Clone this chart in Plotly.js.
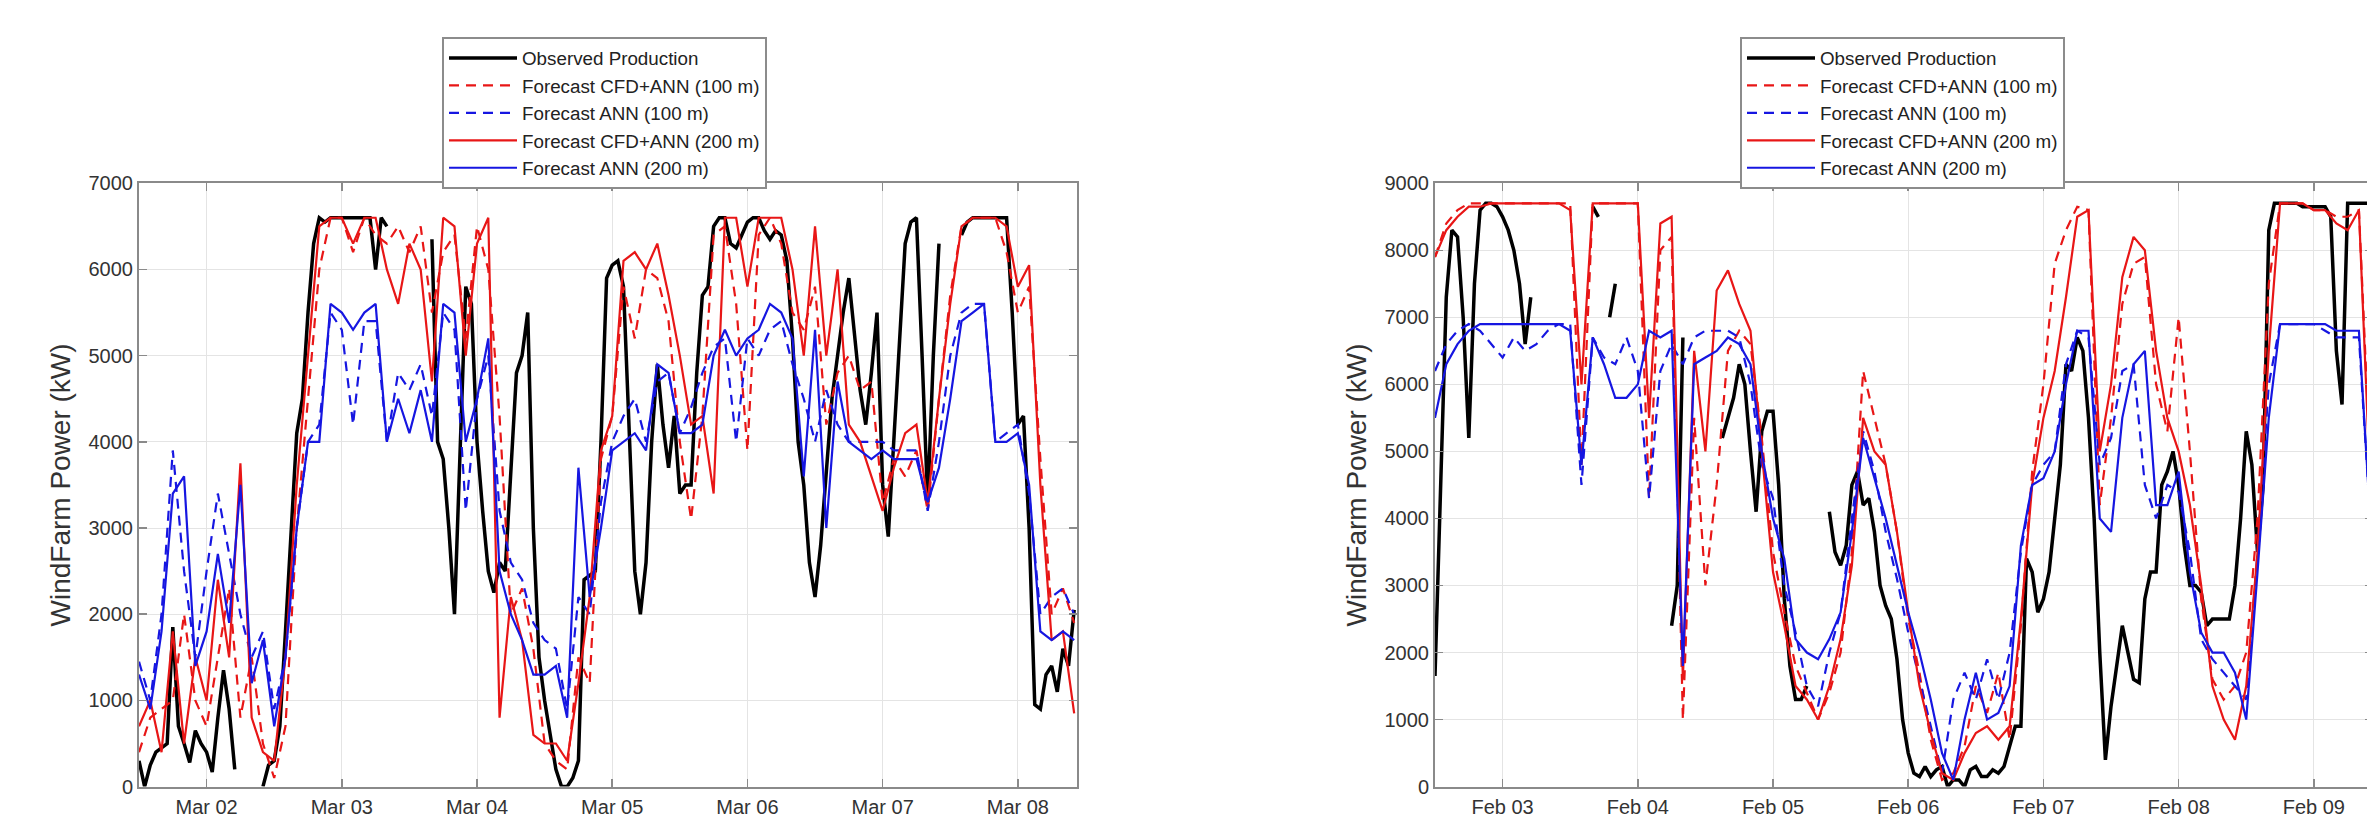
<!DOCTYPE html>
<html>
<head>
<meta charset="utf-8">
<script src="https://cdn.plot.ly/plotly-3.0.1.min.js"></script>
<style>
  html, body { margin: 0; padding: 0; background: #ffffff; overflow: hidden; }
  #chart { width: 2380px; height: 820px; }
</style>
</head>
<body>
<div id="chart"></div>
<script>
// ---------------- DATA ----------------
const marStart = Date.UTC(2015, 2, 1, 12, 0);
const febStart = Date.UTC(2015, 1, 2, 12, 0);

const seriesNames = [
  "Observed Production",
  "Forecast CFD+ANN (100 m)",
  "Forecast ANN (100 m)",
  "Forecast CFD+ANN (200 m)",
  "Forecast ANN (200 m)"
];

// Left panel (March) -- observed, hourly
const marObserved = [
  300, 0, 250, 400, 450, 500, 1850, 700, 500, 280, 650, 500,
  400, 170, 800, 1350, 900, 200, null, null, null, null, 0, 250,
  300, 700, 1800, 3000, 4100, 4500, 5500, 6300, 6600, 6550, 6600, 6600,
  6600, 6600, 6600, 6600, 6600, 6600, 6000, 6600, 6500, null, null, null,
  null, null, null, null, 6350, 4000, 3800, 3000, 2000, 3800, 5800, 5600,
  4000, 3200, 2500, 2250, 2600, 2500, 3600, 4800, 5000, 5500, 3000, 1500,
  1000, 600, 200, 0, 0, 100, 300, 2400, 2450, 2500, 4000, 5900,
  6050, 6100, 5800, 4200, 2500, 2000, 2600, 4000, 4900, 4200, 3700, 4300,
  3400, 3500, 3500, 4800, 5700, 5800, 6500, 6600, 6600, 6300, 6250, 6400,
  6550, 6600, 6600, 6450, 6350, 6450, 6400, 6100, 5200, 4000, 3500, 2600,
  2200, 2800, 3700, 4500, 5000, 5500, 5900, 5200, 4600, 4200, 4800, 5500,
  3500, 2900, 4000, 5200, 6300, 6550, 6600, 5000, 3300, 5000, 6300, null,
  null, null, 6400, 6550, 6600, 6600, 6600, 6600, 6600, 6600, 6600, 5500,
  4200, 4300, 3000, 950, 900, 1300, 1400, 1100, 1600, 1400, 2050, null
];
// Left panel forecasts, every 2 hours
const marCfd100 = [
  400, 800, 900, 1000, 2000, 1000, 700, 1500, 2300, 800, 1500, 500,
  100, 700, 3000, 4500, 6000, 6600, 6600, 6200, 6600, 6400, 6300, 6500,
  6200, 6500, 5500, 6200, 6400, 5200, 6500, 6000, 4300, 2000, 2300, 1600,
  500, 300, 200, 1500, 1200, 3800, 4300, 5800, 5200, 6000, 5900, 5400,
  4000, 3100, 4300, 6400, 6500, 5600, 3900, 6400, 6600, 6300, 5500, 5300,
  5800, 4200, 4800, 5000, 4600, 4700, 3300, 3800, 3600, 3900, 3200, 4500,
  5700, 6500, 6600, 6600, 6600, 6200, 5500, 5800, 3800, 2000, 2300, 1900
];
const marAnn100 = [
  1450, 1000, 2000, 3900, 2500, 1500, 2500, 3400, 2700, 2000, 1500, 1800,
  900, 1500, 3000, 4000, 4200, 5500, 5300, 4200, 5400, 5400, 4000, 4800,
  4600, 4900, 4300, 5500, 5300, 3200, 4500, 5000, 3200, 2600, 2400, 1900,
  1700, 1600, 900, 2200, 2000, 3300, 4000, 4300, 4500, 4000, 4700, 4800,
  4100, 4400, 4800, 5100, 5200, 4000, 5200, 5000, 5300, 5400, 4900, 4500,
  4000, 4600, 4200, 4000, 4000, 4000, 4000, 3900, 3900, 3900, 3200, 4000,
  5000, 5500, 5600, 5600, 4000, 4100, 4200, 3400, 2000, 2200, 2300, 2000
];
const marCfd200 = [
  700, 1000, 400, 1800, 500, 1500, 1000, 2400, 1500, 3750, 800, 400,
  300, 1500, 3500, 5000, 6500, 6600, 6600, 6300, 6600, 6600, 6000, 5600,
  6300, 6000, 4700, 6600, 6500, 5000, 6300, 6600, 800, 2200, 1700, 600,
  500, 500, 300, 1200, 2200, 3900, 4300, 6100, 6200, 6000, 6300, 5700,
  5000, 4200, 4300, 3400, 6600, 6600, 5800, 6600, 6600, 6600, 6000, 5000,
  6500, 5000, 6000, 4200, 4000, 3600, 3200, 3700, 4100, 4200, 3300, 4500,
  5600, 6500, 6600, 6600, 6600, 6500, 5800, 6050, 3500, 1700, 1800, 850
];
const marAnn200 = [
  1300, 900, 1800, 3400, 3600, 1400, 1800, 2700, 1900, 3500, 1200, 1700,
  700, 1500, 3000, 4000, 4000, 5600, 5500, 5300, 5500, 5600, 4000, 4500,
  4100, 4600, 4000, 5600, 5500, 4000, 4500, 5200, 2500, 2000, 1700, 1300,
  1300, 1400, 800, 3700, 2200, 3000, 3900, 4000, 4100, 3900, 4900, 4800,
  4100, 4100, 4200, 5000, 5300, 5000, 5200, 5300, 5600, 5500, 5200, 3600,
  5300, 3000, 4700, 4000, 3900, 3800, 3900, 3800, 3800, 3800, 3300, 3700,
  4500, 5400, 5500, 5600, 4000, 4000, 4100, 3500, 1800, 1700, 1800, 1700
];

// Right panel (February) -- observed, hourly
const febObserved = [
  1650, 4500, 7300, 8300, 8200, 7000, 5200, 7500, 8600, 8700, 8700, 8650,
  8500, 8300, 8000, 7500, 6600, 7300, null, null, null, null, null, null,
  null, null, null, null, 8650, 8500, null, 7000, 7500, null, null, null,
  null, null, null, null, null, null, 2400, 3000, 6700, null, null, null,
  null, null, null, 5200, 5500, 5800, 6300, 6000, 5000, 4100, 5300, 5600,
  5600, 4500, 2800, 1800, 1300, 1300, 1500, null, null, null, 4100, 3500,
  3300, 3600, 4500, 4700, 4200, 4300, 3800, 3000, 2700, 2500, 1900, 1000,
  500, 200, 150, 300, 150, 250, 300, 0, 100, 100, 0, 250,
  300, 150, 150, 250, 200, 300, 600, 900, 900, 3400, 3200, 2600,
  2800, 3200, 4000, 4800, 6300, 6200, 6700, 6500, 5500, 4000, 2000, 400,
  1200, 1800, 2400, 2000, 1600, 1550, 2800, 3200, 3200, 4500, 4700, 5000,
  4500, 3600, 3000, 3000, 2900, 2400, 2500, 2500, 2500, 2500, 3000, 4000,
  5300, 4800, 3500, 4500, 8300, 8700, 8700, 8700, 8700, 8700, 8650, 8650,
  8650, 8650, 8650, 8500, 6500, 5700, 8700, 8700, 8700, 8700, 8700, 8700
];
// Right panel forecasts, every 2 hours
const febCfd100 = [
  7900, 8400, 8600, 8700, 8700, 8700, 8700, 8700, 8700, 8700, 8700, 8700,
  8700, 4800, 8700, 8700, 8700, 8700, 8700, 4300, 8000, 8200, 1000, 5500,
  3000, 4500, 6500, 6800, 6600, 5200, 3500, 2600, 1800, 1400, 1000, 1400,
  2000, 3500, 6200, 5500, 4800, 3800, 2500, 1700, 700, 100, 200, 600,
  1500, 1100, 1700, 700, 2400, 4700, 6000, 7800, 8300, 8650, 8600, 4200,
  5500, 7200, 7800, 7900, 6000, 5300, 7000, 5000, 2800, 1600, 1300, 1500,
  2000, 4000, 7500, 8700, 8700, 8700, 8600, 8600, 8500, 8500, 8600, 4800
];
const febAnn100 = [
  6200, 6600, 6800, 6900, 6800, 6600, 6400, 6700, 6500, 6600, 6800, 6900,
  6900, 4500, 6700, 6400, 6300, 6700, 6200, 4300, 6200, 6600, 6300, 6700,
  6800, 6800, 6800, 6700, 6000, 4800, 4300, 3000, 2300, 1500, 1200, 2000,
  2600, 4000, 5300, 4700, 3800, 3100, 2300, 1600, 900, 200, 1300, 1700,
  1300, 1900, 1300, 2000, 3500, 4500, 4800, 5000, 6300, 6800, 6700, 4800,
  5200, 6200, 6300, 4500, 4000, 4500, 4400, 3500, 2200, 1900, 1700, 1500,
  1300, 3500, 6000, 6900, 6900, 6900, 6900, 6800, 6700, 6700, 6700, 4000
];
const febCfd200 = [
  7900, 8300, 8500, 8650, 8650, 8700, 8700, 8700, 8700, 8700, 8700, 8700,
  8600, 6000, 8700, 8700, 8700, 8700, 8700, 5500, 8400, 8500, 1600, 6500,
  5000, 7400, 7700, 7200, 6800, 5000, 3200, 2400, 1500, 1300, 1000, 1500,
  2200, 3300, 5500, 5000, 4800, 3800, 2600, 1500, 800, 200, 100, 500,
  800, 900, 700, 900, 2500, 4500, 5500, 6200, 7300, 8500, 8600, 5000,
  6000, 7600, 8200, 8000, 6500, 5500, 5000, 4200, 3000, 1500, 1000, 700,
  1500, 3500, 6500, 8700, 8700, 8700, 8600, 8600, 8400, 8300, 8600, 4500
];
const febAnn200 = [
  5500, 6300, 6600, 6800, 6900, 6900, 6900, 6900, 6900, 6900, 6900, 6900,
  6800, 4800, 6700, 6300, 5800, 5800, 6000, 6800, 6700, 6800, 1800, 6300,
  6400, 6500, 6700, 6600, 6300, 5000, 4000, 3400, 2200, 2000, 1900, 2200,
  2600, 3800, 5200, 4600, 4000, 3300, 2600, 2000, 1300, 500, 100, 1000,
  1700, 1000, 1100, 1500, 3600, 4500, 4600, 5000, 6000, 6800, 6800, 4000,
  3800, 5500, 6300, 6500, 4200, 4200, 4700, 3200, 2300, 2000, 2000, 1700,
  1000, 3200, 5500, 6900, 6900, 6900, 6900, 6900, 6800, 6800, 6800, 4000
];

// ---------------- BUILD ----------------
const HOUR = 3600000;
function timeAxis(startMs, stepHours, n) {
  const out = [];
  for (let i = 0; i < n; i++) out.push(startMs + i * stepHours * HOUR);
  return out;
}

const RED = "rgb(232,22,22)";
const BLUE = "rgb(22,22,225)";
const styles = [
  { color: "#000000", width: 3.5, dash: "solid" },
  { color: RED, width: 2.2, dash: "10px,7px" },
  { color: BLUE, width: 2.2, dash: "10px,7px" },
  { color: RED, width: 2.2, dash: "solid" },
  { color: BLUE, width: 2.2, dash: "solid" }
];

function panelTraces(start, obs, fc, xa, ya, legendId) {
  const all = [obs].concat(fc);
  return all.map((vals, i) => ({
    type: "scatter",
    mode: "lines",
    x: timeAxis(start, i === 0 ? 1 : 2, vals.length),
    y: vals,
    name: seriesNames[i],
    line: styles[i],
    connectgaps: false,
    xaxis: xa,
    yaxis: ya,
    legend: legendId,
    hoverinfo: "x+y+name"
  }));
}

const traces = []
  .concat(panelTraces(marStart, marObserved, [marCfd100, marAnn100, marCfd200, marAnn200], "x", "y", "legend"))
  .concat(panelTraces(febStart, febObserved, [febCfd100, febAnn100, febCfd200, febAnn200], "x2", "y2", "legend2"));

const W = 2380, H = 820;
const yDom = [23 / H, 643 / H];
const axisCommon = {
  ticks: "inside",
  ticklen: 8,
  tickwidth: 1.5,
  tickcolor: "#8a8a8a",
  showline: true,
  linecolor: "#8a8a8a",
  linewidth: 2,
  mirror: "ticks",
  showgrid: true,
  gridcolor: "#e4e4e4",
  gridwidth: 1,
  zeroline: false,
  tickfont: { size: 20, color: "#333333" }
};

const xCommon = Object.assign({}, axisCommon, {
  type: "date",
  tickformat: "%b %d",
  dtick: 86400000,
  ticklabelstandoff: 1
});
const yTitle = { text: "WindFarm Power (kW)", font: { size: 28, color: "#333333" }, standoff: 10 };

const legendCommon = {
  y: 1 - 27 / H, xanchor: "left", yanchor: "top",
  bgcolor: "#ffffff", bordercolor: "#8c8c8c", borderwidth: 2,
  font: { size: 18.8, color: "#222222" }, itemwidth: 68, tracegroupgap: 0
};

const layout = {
  width: W,
  height: H,
  margin: { l: 0, r: 0, t: 0, b: 0 },
  paper_bgcolor: "#ffffff",
  plot_bgcolor: "#ffffff",
  font: { family: "Liberation Sans, Arial, Helvetica, sans-serif", color: "#333333", size: 20 },
  showlegend: true,
  xaxis: Object.assign({}, xCommon, {
    domain: [139 / W, 1077 / W],
    range: [marStart, marStart + 166.5 * HOUR],
    tick0: Date.UTC(2015, 2, 2),
    anchor: "y"
  }),
  yaxis: Object.assign({}, axisCommon, {
    domain: yDom,
    range: [0, 7000],
    dtick: 1000,
    anchor: "x",
    automargin: true,
    title: yTitle
  }),
  xaxis2: Object.assign({}, xCommon, {
    domain: [1435 / W, 2373 / W],
    range: [febStart, febStart + 166.5 * HOUR],
    tick0: Date.UTC(2015, 1, 3),
    anchor: "y2"
  }),
  yaxis2: Object.assign({}, axisCommon, {
    domain: yDom,
    range: [0, 9000],
    dtick: 1000,
    anchor: "x2",
    automargin: true,
    title: yTitle
  }),
  legend: Object.assign({ x: 442 / W }, legendCommon),
  legend2: Object.assign({ x: 1740 / W }, legendCommon)
};

Plotly.newPlot("chart", traces, layout, { staticPlot: true, displayModeBar: false });
</script>
</body>
</html>
